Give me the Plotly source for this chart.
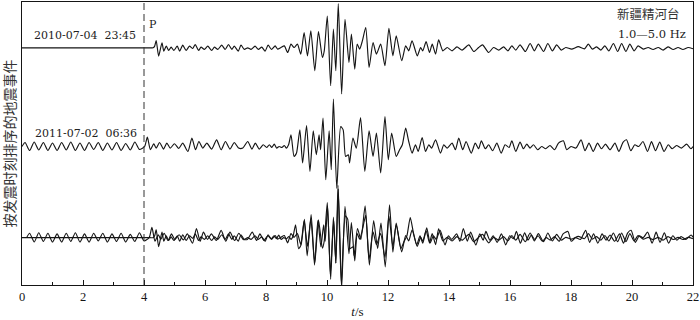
import plotly.graph_objects as go

# ---------------- data ----------------
# event 1 (2010-07-04 23:45): time [s] and relative amplitude
TOP_T = [0.00, 3.00, 4.00, 4.20, 4.30, 4.35, 4.40, 4.48, 4.59, 4.65, 4.73, 4.81, 4.89, 4.98, 5.09, 5.17, 5.27, 5.38,
         5.49, 5.60, 5.68, 5.79, 5.87, 5.98, 6.09, 6.22, 6.31, 6.42, 6.55, 6.66, 6.77, 6.88, 6.96,
         7.09, 7.18, 7.29, 7.40, 7.51, 7.64, 7.75, 7.86, 7.97, 8.07, 8.18, 8.30, 8.38, 8.49, 8.60,
         8.71, 8.82, 8.92, 9.03, 9.14, 9.25, 9.36, 9.47, 9.60, 9.72, 9.85, 9.91, 10.01, 10.12, 10.21,
         10.29, 10.37, 10.48, 10.59, 10.72, 10.80, 10.91, 10.99, 11.07, 11.16, 11.27, 11.38, 11.51,
         11.62, 11.76, 11.90, 12.03, 12.16, 12.27, 12.45, 12.58, 12.68, 12.79, 12.96, 13.07, 13.14,
         13.25, 13.36, 13.45, 13.56, 13.66, 13.80, 13.94, 14.10, 14.26, 14.43, 14.65, 14.81, 14.97,
         15.10, 15.30, 15.46, 15.63, 15.79, 15.93, 16.06, 16.19, 16.33, 16.50, 16.66, 16.80, 16.93,
         17.10, 17.24, 17.39, 17.53, 17.68, 17.83, 18.02, 18.24, 18.44, 18.57, 18.70, 18.84, 18.98,
         19.11, 19.24, 19.39, 19.53, 19.66, 19.80, 19.93, 20.07, 20.20, 20.37, 20.53, 20.69, 20.86,
         21.02, 21.18, 21.35, 21.51, 21.67, 21.84, 22.00]
TOP_A = [0, 0, 0, 0, 0, 1.7, 7.4, -8.3, 5, -3.3, 1.7, -2.6, 0.7, -2.6, 1.7, -3.3, 2.7, -2.6,
         1.7, -0.6, 3.4, -2.6, 0.7, -1.6, 1.7, -2.6, 0.7, -1.6, 2.7, -1.6, 3.4, -1.6, 1.7,
         -3.3, 2.7, -1.6, 0, -1.6, 1.7, -1.6, 0.7, -3.3, 2.7, -1.6, 2, -1.3, 0.3, 2,
         -4.7, 3.7, 0.3, 3.7, -6.3, 15.3, -8, 17, -23, 16.3, -9.7, -3, 32, -38, 18.7,
         -23, 44.3, -46.3, 28.7, -14.7, 13.7, -21.3, 3.7, -1.3, 7, 20.3, -19.7, 5.3,
         -6.3, 3.7, -18, 19.7, -8, 12, -13, 2, -3, 7, -8, 0.3, -3,
         6.3, -4.7, 3.7, -6.3, 8, -3, 0.3, -3, 1, -2.3, 3, -3.7, 0.3,
         3, -4.7, 0.3, -2.3, 1, -3, 2, -2.3, 3, -3.7, 4.3, -3, 3.7,
         -3.7, 4.3, -3, 3, -2.3, 0.3, -1.3, 1.2, -1.0, 3.7, -1.3, 1, -2.3,
         2, -3, 4.3, -3.7, 4.3, -3.7, 3.7, -3, 2, -1.3, 0.3, -1.7, 0.3,
         -2.3, 1, -1.7, 0.3, -1.7, 0.3, -1]

# event 2 (2011-07-02 06:36)
MID_T = [0.00, 0.10, 0.25, 0.40, 0.55, 0.70, 0.85, 1.00, 1.15, 1.30, 1.45, 1.60, 1.75, 1.90, 2.05,
         2.20, 2.35, 2.50, 2.65, 2.80, 2.95, 3.10, 3.25, 3.40, 3.55, 3.70, 3.85, 4.02, 4.11, 4.21,
         4.32, 4.40, 4.51, 4.64, 4.75, 4.86, 5.00, 5.14, 5.27, 5.44, 5.57, 5.69, 5.80, 5.93, 6.06,
         6.22, 6.38, 6.53, 6.67, 6.82, 6.96, 7.10, 7.24, 7.40, 7.54, 7.65, 7.78, 7.91, 8.02, 8.11,
         8.19, 8.27, 8.35, 8.43, 8.52, 8.60, 8.67, 8.74, 8.82, 8.92, 9.00, 9.11, 9.20, 9.33, 9.44,
         9.55, 9.65, 9.74, 9.79, 9.87, 9.96, 10.07, 10.14, 10.21, 10.32, 10.45, 10.53, 10.61, 10.70,
         10.74, 10.85, 10.96, 11.10, 11.24, 11.38, 11.51, 11.62, 11.76, 11.90, 12.01, 12.12, 12.27,
         12.38, 12.47, 12.58, 12.68, 12.79, 12.90, 12.99, 13.12, 13.23, 13.34, 13.43, 13.56, 13.72,
         13.83, 13.94, 14.10, 14.21, 14.32, 14.45, 14.56, 14.73, 14.86, 14.97, 15.06, 15.19, 15.30,
         15.43, 15.57, 15.71, 15.84, 15.97, 16.06, 16.19, 16.33, 16.44, 16.55, 16.66, 16.77, 16.91,
         17.04, 17.17, 17.31, 17.46, 17.59, 17.75, 17.86, 18.00, 18.16, 18.33, 18.46, 18.59, 18.73,
         18.87, 19.00, 19.13, 19.28, 19.44, 19.57, 19.71, 19.82, 19.96, 20.09, 20.22, 20.36, 20.51,
         20.64, 20.77, 20.91, 21.05, 21.19, 21.32, 21.46, 21.62, 21.79, 21.93, 22.00]
MID_A = [0, 4, -4, 4.5, -3.5, 4, -4, 3.5, -4, 4, -3.5, 4.5, -4, 3.5, -4,
         4, -3, 4, -4, 3.5, -3.5, 4, -4, 3, -3.5, 4.5, -3, 0, 9.4, -3.3,
         2.7, -1.6, 4, -2.6, 3.4, -1.6, 2.7, -2, 3.4, -5, 8.4, -3.3, 5, -1.6, 3.4,
         -2.6, 6.7, -3.3, 5, -2.6, 4, -1.6, -1.6, 5, -2.6, 3.4, -2.6, 1.7, -1, 1.7,
         -1, 2.4, -1.6, 0, -1, 1, -1.6, 1.7, 11.7, -10, -6.6, 16.7, -16.6, 21, -25,
         15.7, -8.3, 11.7, -3.3, 28.4, -33.3, 15.7, -23.3, 47.7, -42, 20, 16.7, -10, -8.3,
         -16.6, 8.4, -1.6, 29, -25, 15.7, -10, 13.4, -26.6, 30, -13.3, 13.4, -10,
         -3.3, 1.7, 18.4, 5, -6.6, 1.7, -5, 9, -5, 1.7, -1.6, 6.7, -6.6,
         1.7, -1.6, 3.4, -3.3, 8.4, -3.3, 5, -6.6, 3.4, -2.3, 5.7, -2.3, 1.7,
         -4.3, 3.4, -6.6, 1.7, -1, 5.7, -5, 4.4, -2.3, 2.4, -1.6, 1.7, -3.3,
         0, -2.3, 1, -3.3, 3.4, 5.7, -3.3, 0, -1.6, 6.7, -4.3, 3.4, -5,
         3.4, -2.3, 2.4, -3.3, 3.4, -5, 4.4, 6.7, -4.3, 1.7, 0, 5, -5,
         5, -4.3, 4.4, -5, 1.7, -2.3, 1, -1.6, 2.4, -2.3, 0]

EVENT_LABELS = ["2010-07-04&nbsp;&nbsp;23:45", "2011-07-02&nbsp;&nbsp;06:36"]
STATION = "新疆精河台"
BAND = "1.0—5.0 Hz"
P_LABEL = "P"
P_TIME = 4.0
Y_TITLE = "按发震时刻排序的地震事件"
X_TITLE = "<i>t</i>/s"
X_TICKS = [0, 2, 4, 6, 8, 10, 12, 14, 16, 18, 20, 22]

# ---------------- layout constants ----------------
BASE_TOP, BASE_MID, BASE_STACK = 238.0, 139.0, 47.5
STACK_SHIFT = 0.15     # alignment shift of event 2 in the overlay
STACK_SCALE = 1.1
SERIF = "Liberation Serif"
LABEL_SERIF = "DejaVu Serif"
CJK = "Noto Sans CJK SC"
INK = "#151515"

fig = go.Figure()
ln = dict(color=INK, width=1.15, shape="spline", smoothing=0.6)


def add(t, a, base, shift=0.0, scale=1.0):
    fig.add_trace(go.Scatter(x=[v + shift for v in t], y=[base + scale * v for v in a],
                             mode="lines", line=ln, hoverinfo="skip", showlegend=False,
                             cliponaxis=True))


add(TOP_T, TOP_A, BASE_TOP)
add(MID_T, MID_A, BASE_MID)
add(TOP_T, TOP_A, BASE_STACK, scale=STACK_SCALE)
add(MID_T, MID_A, BASE_STACK, shift=STACK_SHIFT, scale=STACK_SCALE)

fig.add_shape(type="line", x0=P_TIME, x1=P_TIME, y0=0, y1=1, xref="x", yref="paper",
              line=dict(color="#333333", width=1, dash="7px,4px"))

lab_font = dict(family=LABEL_SERIF, size=11, color="#222222")
ann = [
    dict(x=2.06, y=BASE_TOP + 12, text=EVENT_LABELS[0], xref="x", yref="y", showarrow=False,
         yanchor="middle", font=lab_font),
    dict(x=2.1, y=BASE_MID + 13, text=EVENT_LABELS[1], xref="x", yref="y", showarrow=False,
         yanchor="middle", font=lab_font),
    dict(x=P_TIME, y=261, text=P_LABEL, xref="x", yref="y", showarrow=False, xanchor="left",
         yanchor="middle", xshift=3, font=lab_font),
    dict(x=0.983, y=0.958, text=STATION, xref="paper", yref="paper", showarrow=False,
         xanchor="right", yanchor="middle", font=dict(family=CJK, size=12.5, color="#333333")),
    dict(x=0.992, y=0.887, text=BAND, xref="paper", yref="paper", showarrow=False,
         xanchor="right", yanchor="middle", font=dict(family=LABEL_SERIF, size=11.5, color="#222222")),
    dict(x=0, y=0.5, xshift=-14, text=Y_TITLE, xref="paper", yref="paper", showarrow=False,
         xanchor="center", yanchor="middle", textangle=-90,
         font=dict(family=CJK, size=14, color="#333333")),
]

fig.update_layout(
    width=700, height=320,
    margin=dict(l=22, r=5, t=1, b=35),
    paper_bgcolor="white", plot_bgcolor="white",
    annotations=ann,
    xaxis=dict(range=[0, 22.0001], tickvals=X_TICKS, ticktext=[str(v) for v in X_TICKS],
               ticks="inside", ticklen=5, tickwidth=1, tickcolor=INK, ticklabeloverflow="allow",
               minor=dict(dtick=1, ticks="inside", ticklen=3, tickcolor=INK),
               showline=True, linecolor=INK, linewidth=1, mirror=True, showgrid=False,
               zeroline=False, tickfont=dict(family=SERIF, size=12.5, color=INK),
               title=dict(text=X_TITLE, font=dict(family=SERIF, size=13, color=INK), standoff=3)),
    yaxis=dict(range=[0, 284], showticklabels=False, ticks="", showline=True, linecolor=INK,
               linewidth=1, mirror=True, showgrid=False, zeroline=False),
)

fig.write_html("out.html")
